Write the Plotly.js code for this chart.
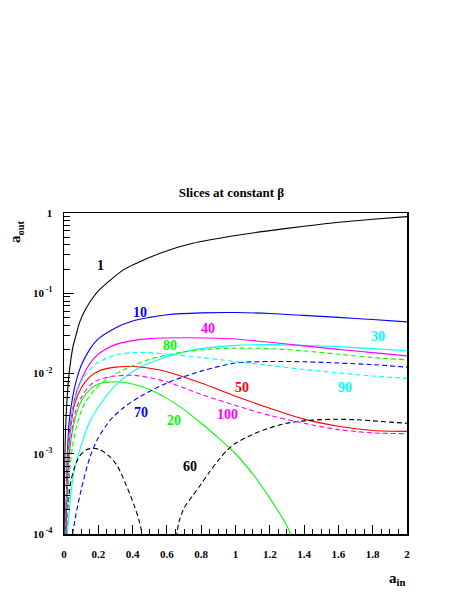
<!DOCTYPE html>
<html>
<head>
<meta charset="utf-8">
<script src="https://cdn.plot.ly/plotly-3.0.1.min.js"></script>
<style>
  html, body { margin: 0; padding: 0; background: #fff; }
  #chart { width: 463px; height: 599px; }
</style>
</head>
<body>
<div id="chart"></div>
<script>
// Data (a_in vs a_out, one slice per beta)

const b1X = [0.001, 0.004, 0.008, 0.014, 0.023, 0.033, 0.053, 0.07, 0.092, 0.12, 0.16, 0.2, 0.27, 0.36, 0.45, 0.56, 0.75, 1.0, 1.2, 1.4, 1.6, 1.8, 2.0];
const b1Y = [1e-4, 6.9e-4, 1.7e-3, 3.5e-3, 6.9e-3, 1.15e-2, 2.2e-2, 3.0e-2, 4.4e-2, 6.0e-2, 8.3e-2, 0.107, 0.146, 0.204, 0.251, 0.316, 0.419, 0.525, 0.603, 0.684, 0.767, 0.836, 0.9];

const b10X = [0.01, 0.02, 0.03, 0.05, 0.07, 0.1, 0.15, 0.2, 0.3, 0.4, 0.5, 0.6, 0.8, 1.0, 1.2, 1.4, 1.6, 1.8, 2.0];
const b10Y = [1e-4, 1e-3, 2.5e-3, 5.0e-3, 7.9e-3, 1.26e-2, 2.0e-2, 2.7e-2, 3.7e-2, 4.5e-2, 5.0e-2, 5.4e-2, 5.7e-2, 5.75e-2, 5.6e-2, 5.3e-2, 5.0e-2, 4.7e-2, 4.4e-2];

const b20X = [0.012, 0.025, 0.04, 0.06, 0.1, 0.15, 0.2, 0.3, 0.4, 0.5, 0.6, 0.7, 0.8, 0.9, 1.0, 1.1, 1.2, 1.3, 1.33];
const b20Y = [1e-4, 6.3e-4, 1.41e-3, 2.5e-3, 4.5e-3, 6.3e-3, 7.4e-3, 7.9e-3, 7.4e-3, 6.3e-3, 4.9e-3, 3.55e-3, 2.4e-3, 1.58e-3, 1.0e-3, 5.6e-4, 2.8e-4, 1.26e-4, 8.9e-5];

const b30X = [0.02, 0.04, 0.06, 0.1, 0.15, 0.2, 0.3, 0.4, 0.5, 0.6, 0.7, 0.8, 1.0, 1.2, 1.4, 1.6, 1.8, 2.0];
const b30Y = [1e-4, 3.16e-4, 6.3e-4, 1.26e-3, 2.5e-3, 3.8e-3, 7.1e-3, 1.05e-2, 1.35e-2, 1.62e-2, 1.86e-2, 2.04e-2, 2.24e-2, 2.29e-2, 2.24e-2, 2.16e-2, 2.04e-2, 1.92e-2];

const b40X = [0.01, 0.02, 0.03, 0.05, 0.07, 0.1, 0.15, 0.2, 0.3, 0.4, 0.5, 0.7, 0.9, 1.0, 1.2, 1.4, 1.6, 1.8, 2.0];
const b40Y = [1e-4, 7.9e-4, 1.78e-3, 3.55e-3, 5.6e-3, 8.3e-3, 1.32e-2, 1.74e-2, 2.29e-2, 2.57e-2, 2.72e-2, 2.79e-2, 2.75e-2, 2.69e-2, 2.45e-2, 2.21e-2, 2.0e-2, 1.82e-2, 1.66e-2];

const b50X = [0.01, 0.02, 0.035, 0.06, 0.1, 0.15, 0.2, 0.3, 0.4, 0.5, 0.6, 0.8, 1.0, 1.2, 1.4, 1.6, 1.8, 2.0];
const b50Y = [1e-4, 6.3e-4, 1.78e-3, 4.0e-3, 6.6e-3, 9.1e-3, 1.07e-2, 1.2e-2, 1.22e-2, 1.16e-2, 1.05e-2, 7.6e-3, 5.2e-3, 3.7e-3, 2.7e-3, 2.2e-3, 1.95e-3, 1.9e-3];

const b60X = [0.012, 0.025, 0.04, 0.06, 0.09, 0.13, 0.17, 0.21, 0.26, 0.31, 0.36, 0.41, 0.44, 0.465, null, 0.655, 0.67, 0.7, 0.75, 0.8, 0.85, 0.9, 0.95, 1.0, 1.1, 1.2, 1.3, 1.4, 1.5, 1.6, 1.7, 1.8, 1.9, 2.0];
const b60Y = [1e-4, 2.5e-4, 4.5e-4, 6.6e-4, 9.3e-4, 1.12e-3, 1.17e-3, 1.12e-3, 9.5e-4, 7.1e-4, 4.2e-4, 2.24e-4, 1.41e-4, 7.9e-5, null, 8.9e-5, 1.41e-4, 2.1e-4, 3.0e-4, 4.2e-4, 6.0e-4, 8.3e-4, 1.1e-3, 1.35e-3, 1.74e-3, 2.1e-3, 2.4e-3, 2.57e-3, 2.66e-3, 2.69e-3, 2.66e-3, 2.57e-3, 2.48e-3, 2.4e-3];

const b70X = [0.05, 0.07, 0.1, 0.15, 0.2, 0.27, 0.35, 0.45, 0.6, 0.8, 1.0, 1.2, 1.4, 1.6, 1.8, 2.0];
const b70Y = [1e-4, 1.78e-4, 3.55e-4, 8.9e-4, 1.58e-3, 2.63e-3, 3.8e-3, 5.25e-3, 7.6e-3, 1.07e-2, 1.35e-2, 1.41e-2, 1.40e-2, 1.35e-2, 1.29e-2, 1.20e-2];

const b80X = [0.015, 0.03, 0.05, 0.08, 0.12, 0.18, 0.25, 0.35, 0.5, 0.7, 0.9, 1.0, 1.2, 1.4, 1.6, 1.8, 2.0];
const b80Y = [1e-4, 5.0e-4, 1.26e-3, 2.5e-3, 4.2e-3, 6.3e-3, 8.5e-3, 1.12e-2, 1.51e-2, 1.86e-2, 2.04e-2, 2.07e-2, 2.04e-2, 1.91e-2, 1.74e-2, 1.58e-2, 1.48e-2];

const b90X = [0.01, 0.02, 0.035, 0.06, 0.1, 0.15, 0.2, 0.3, 0.4, 0.5, 0.6, 0.8, 1.0, 1.2, 1.4, 1.6, 1.8, 2.0];
const b90Y = [1e-4, 6.3e-4, 2.0e-3, 4.5e-3, 7.9e-3, 1.12e-2, 1.38e-2, 1.70e-2, 1.82e-2, 1.82e-2, 1.74e-2, 1.58e-2, 1.41e-2, 1.26e-2, 1.12e-2, 1.02e-2, 9.3e-3, 8.7e-3];

const b100X = [0.012, 0.025, 0.04, 0.07, 0.1, 0.15, 0.2, 0.3, 0.4, 0.5, 0.6, 0.8, 1.0, 1.2, 1.4, 1.6, 1.8, 2.0];
const b100Y = [1e-4, 6.3e-4, 1.58e-3, 3.55e-3, 5.0e-3, 7.1e-3, 8.3e-3, 9.3e-3, 9.5e-3, 8.9e-3, 7.9e-3, 5.5e-3, 4.0e-3, 3.0e-3, 2.4e-3, 2.0e-3, 1.82e-3, 1.78e-3];

// Tick labels
const xTickVals = [0, 0.2, 0.4, 0.6, 0.8, 1, 1.2, 1.4, 1.6, 1.8, 2];
const xTickText = ["0", "0.2", "0.4", "0.6", "0.8", "1", "1.2", "1.4", "1.6", "1.8", "2"];
const yTickVals = [1e-4, 1e-3, 1e-2, 1e-1, 1];
const yTickText = ["10<sup> -4</sup>", "10<sup> -3</sup>", "10<sup> -2</sup>", "10<sup> -1</sup>", "1"];

// Curve labels: text, colour, a_in, log10(a_out)
const curveLabels = [
  ["1", "#000000", 0.214, -0.648],
  ["10", "#0000ff", 0.443, -1.246],
  ["40", "#ff00ff", 0.839, -1.445],
  ["30", "#00ffff", 1.829, -1.545],
  ["80", "#00ff00", 0.617, -1.657],
  ["90", "#00ffff", 1.637, -2.17],
  ["50", "#ff0000", 1.037, -2.18],
  ["100", "#ff00ff", 0.955, -2.505],
  ["70", "#0000ff", 0.448, -2.48],
  ["20", "#00ff00", 0.64, -2.59],
  ["60", "#000000", 0.733, -3.165],
];

// Traces

const FONT = "Liberation Serif";
const DASH = "5px,3px";

const makeLine = function (x, y, color, dashed) {
  return {
    x: x,
    y: y,
    type: "scatter",
    mode: "lines",
    connectgaps: false,
    hoverinfo: "skip",
    line: {
      color: color,
      width: 1.1,
      dash: dashed ? DASH : "solid",
      shape: "spline",
      smoothing: 0.8,
    },
  };
};

const data = [
  makeLine(b1X, b1Y, "#000000", false),
  makeLine(b10X, b10Y, "#0000ff", false),
  makeLine(b20X, b20Y, "#00ff00", false),
  makeLine(b30X, b30Y, "#00ffff", false),
  makeLine(b40X, b40Y, "#ff00ff", false),
  makeLine(b50X, b50Y, "#ff0000", false),
  makeLine(b60X, b60Y, "#000000", true),
  makeLine(b70X, b70Y, "#0000ff", true),
  makeLine(b80X, b80Y, "#00ff00", true),
  makeLine(b90X, b90Y, "#00ffff", true),
  makeLine(b100X, b100Y, "#ff00ff", true),
];

// Minor ticks
const minorX = [];
for (let i = 1; i < 40; i++) {
  if (i % 4 !== 0) minorX.push(i * 0.05);
}
const minorY = [];
for (let e = -4; e < 0; e++) {
  for (let m = 2; m <= 9; m++) minorY.push(m * Math.pow(10, e));
}

// Annotations

const annotations = curveLabels.map(function (l) {
  return {
    text: "<b>" + l[0] + "</b>",
    x: l[2],
    y: l[3],
    xref: "x",
    yref: "y",
    showarrow: false,
    font: { family: FONT, size: 14, color: l[1] },
  };
});

annotations.push({
  text: "<b>a<sub>out</sub></b>",
  xref: "paper",
  yref: "paper",
  x: -0.17,
  y: 0.985,
  textangle: -90,
  showarrow: false,
  font: { family: FONT, size: 15, color: "#000" },
});

annotations.push({
  text: "<b>a<sub>in</sub></b>",
  xref: "paper",
  yref: "paper",
  x: 1.0,
  y: -0.175,
  showarrow: false,
  font: { family: FONT, size: 15, color: "#000" },
});

// Layout

const layout = {
  width: 463,
  height: 599,
  paper_bgcolor: "#ffffff",
  plot_bgcolor: "#ffffff",
  showlegend: false,
  margin: { l: 64, r: 56, t: 213, b: 65, pad: 0 },
  title: {
    text: "<b>Slices at constant β</b>",
    x: 0.5,
    xref: "container",
    y: 1 - 192 / 599,
    yref: "container",
    yanchor: "middle",
    font: { family: FONT, size: 13, color: "#000" },
  },
  xaxis: {
    range: [0, 2],
    tickmode: "array",
    tickvals: xTickVals,
    ticktext: xTickText,
    ticks: "inside",
    ticklen: 9,
    tickwidth: 1,
    tickcolor: "#000",
    ticklabelstandoff: 9,
    showgrid: false,
    zeroline: false,
    showline: true,
    linecolor: "#000",
    linewidth: 1.5,
    mirror: true,
    tickfont: { family: FONT, size: 11, color: "#000", weight: "bold" },
    minor: {
      tickmode: "array",
      tickvals: minorX,
      ticks: "inside",
      ticklen: 5,
      tickcolor: "#000",
      showgrid: false,
    },
  },
  yaxis: {
    type: "log",
    range: [-4, 0],
    tickmode: "array",
    tickvals: yTickVals,
    ticktext: yTickText,
    ticks: "inside",
    ticklen: 10,
    tickwidth: 1,
    tickcolor: "#000",
    ticklabelstandoff: 8,
    showgrid: false,
    zeroline: false,
    showline: true,
    linecolor: "#000",
    linewidth: 1.5,
    mirror: true,
    tickfont: { family: FONT, size: 11, color: "#000", weight: "bold" },
    minor: {
      tickmode: "array",
      tickvals: minorY,
      ticks: "inside",
      ticklen: 6,
      tickcolor: "#000",
      showgrid: false,
    },
  },
  annotations: annotations,
};

Plotly.newPlot("chart", data, layout, {
  displayModeBar: false,
  staticPlot: true,
});
</script>
</body>
</html>
